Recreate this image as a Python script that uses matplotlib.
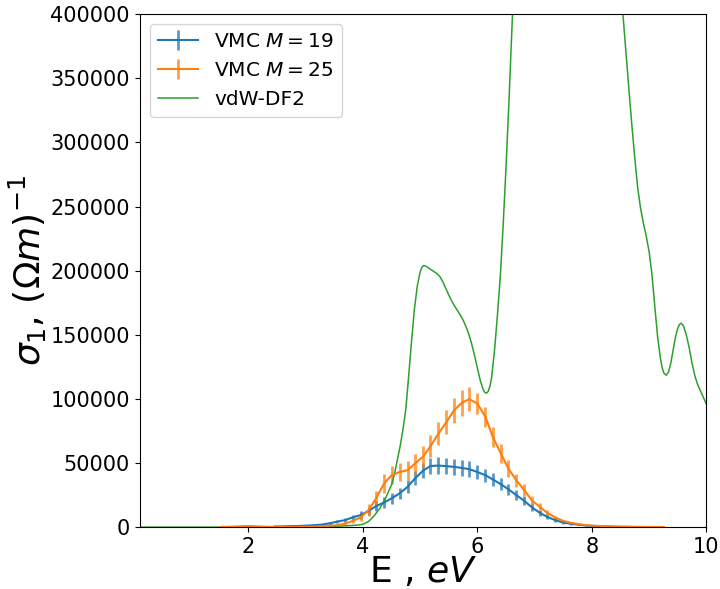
import numpy as np
import matplotlib
matplotlib.use('Agg')
import matplotlib.pyplot as plt

# energy grid of the VMC points (eV)
E_vmc = [1.51, 1.65, 1.78, 1.92, 2.06, 2.19, 2.33, 2.46, 2.60, 2.74,
         2.87, 3.01, 3.14, 3.28, 3.42, 3.55, 3.69, 3.82, 3.96, 4.10,
         4.23, 4.37, 4.50, 4.64, 4.78, 4.91, 5.05, 5.18, 5.32, 5.46,
         5.59, 5.73, 5.86, 6.00, 6.14, 6.27, 6.41, 6.54, 6.68, 6.82,
         6.95, 7.09, 7.22, 7.36, 7.50, 7.63, 7.77, 7.90, 8.04, 8.18,
         8.31, 8.45, 8.58, 8.72, 8.86, 8.99, 9.13, 9.26]

# VMC M=25 (units of 1000 (Ohm m)^-1)
sig_m25 = [0.2, 0.3, 0.5, 0.8, 0.8, 0.5, 0.3, 0.2, 0.2, 0.2,
           0.2, 0.3, 0.4, 0.6, 1.0, 1.6, 2.8, 4.8, 7.6, 13.3,
           22.4, 34.0, 40.5, 43.0, 44.4, 49.6, 55.0, 63.0, 73.0, 82.0,
           91.0, 97.0, 99.8, 96.4, 86.0, 70.4, 57.5, 45.8, 36.6, 28.9,
           21.0, 15.8, 11.2, 7.6, 4.9, 3.4, 2.3, 1.6, 1.1, 0.8,
           0.6, 0.45, 0.35, 0.25, 0.2, 0.15, 0.1, 0.08]
err_m25 = [0.3, 0.3, 0.4, 0.6, 0.6, 0.4, 0.3, 0.3, 0.3, 0.3,
           0.3, 0.3, 0.4, 0.5, 0.6, 0.8, 1.2, 1.8, 2.8, 4.5,
           6.0, 7.5, 7.0, 7.0, 7.5, 7.8, 8.0, 8.5, 9.0, 9.5,
           9.5, 10.0, 9.5, 8.5, 8.0, 8.0, 7.5, 6.5, 5.2, 4.5,
           3.5, 2.8, 1.8, 1.2, 0.8, 0.6, 0.4, 0.3, 0.2, 0.2,
           0.1, 0.1, 0.1, 0.1, 0.1, 0.1, 0.1, 0.1]

# VMC M=19 starts at E_vmc[7]
sig_m19 = [0.5, 0.6, 0.8, 0.9, 1.2, 1.5, 2.0, 3.0, 4.3, 5.5,
           7.6, 9.4, 12.7, 16.4, 19.2, 22.4, 26.3, 31.4, 38.0, 44.0,
           47.7, 48.0, 47.6, 47.0, 46.2, 45.2, 43.0, 40.5, 37.2, 33.5,
           29.6, 25.0, 20.5, 15.5, 11.2, 8.0, 5.5, 3.6, 2.7, 1.9,
           1.3, 0.9, 0.6, 0.4, 0.3, 0.2, 0.15, 0.1, 0.08, 0.05, 0.04]
err_m19 = [0.5, 0.5, 0.6, 0.6, 0.7, 0.7, 0.8, 1.0, 1.3, 1.6,
           2.0, 3.0, 3.3, 3.8, 4.0, 4.2, 4.5, 5.0, 5.5, 6.0,
           6.3, 6.5, 6.5, 6.5, 6.3, 6.0, 5.5, 5.2, 5.0, 4.7,
           4.3, 4.0, 3.5, 3.0, 2.5, 2.0, 1.5, 1.1, 0.8, 0.6,
           0.4, 0.3, 0.2, 0.2, 0.1, 0.1, 0.1, 0.1, 0.1, 0.1, 0.1]

# vdW-DF2 reference curve
E_df2 = [0.1, 1.0, 2.0, 2.5, 3.0, 3.4, 3.7, 3.9, 4.0, 4.1,
         4.2, 4.3, 4.4, 4.5, 4.55, 4.6, 4.65, 4.7, 4.75, 4.8,
         4.85, 4.9, 4.95, 5.0, 5.03, 5.06, 5.1, 5.15, 5.2, 5.25,
         5.3, 5.35, 5.4, 5.45, 5.5, 5.55, 5.6, 5.65, 5.7, 5.75,
         5.8, 5.85, 5.9, 5.95, 6.0, 6.05, 6.1, 6.13, 6.16, 6.19,
         6.22, 6.25, 6.3, 6.35, 6.4, 6.45, 6.5, 6.55, 6.6, 6.65,
         6.7, 6.8, 7.0, 7.3, 7.6, 8.0, 8.3, 8.5, 8.55, 8.6,
         8.65, 8.7, 8.75, 8.8, 8.85, 8.9, 8.95, 9.0, 9.05, 9.1,
         9.15, 9.2, 9.23, 9.26, 9.3, 9.34, 9.38, 9.42, 9.46, 9.5,
         9.53, 9.56, 9.6, 9.65, 9.7, 9.75, 9.8, 9.85, 9.9, 9.95,
         10.0]
sig_df2 = [0.0, 0.0, 0.0, 0.1, 0.2, 0.5, 1.0, 1.6, 2.2, 4.5,
           9.0, 15.0, 23.0, 33.0, 41.0, 52.0, 63.0, 76.0, 92.0, 118.0,
           145.0, 170.0, 188.0, 199.0, 202.5, 204.0, 203.5, 202.0, 200.5, 199.0,
           197.5, 195.0, 191.0, 186.0, 181.0, 176.5, 172.5, 169.0, 165.5, 161.5,
           156.5, 150.5, 143.0, 134.0, 124.0, 114.5, 107.5, 105.0, 104.5, 106.0,
           110.0, 117.0, 138.0, 165.0, 195.0, 235.0, 280.0, 330.0, 385.0, 440.0,
           500.0, 580.0, 680.0, 720.0, 690.0, 620.0, 520.0, 425.0, 396.0, 368.0,
           340.0, 313.0, 288.0, 265.0, 249.0, 237.0, 227.0, 215.0, 197.0, 172.0,
           148.0, 131.0, 124.0, 120.0, 118.5, 121.0, 128.0, 138.0, 148.0, 155.0,
           158.0, 159.0, 157.0, 150.0, 140.0, 128.0, 118.0, 111.0, 106.0, 101.0,
           96.0]

fig = plt.figure(figsize=(7.2, 5.89), dpi=100)
ax = fig.add_axes([0.194, 0.105, 0.787, 0.871])

k = 1000.0
e19 = ax.errorbar(E_vmc[7:], np.array(sig_m19) * k, yerr=np.array(err_m19) * k,
                  color='C0', lw=1.5, elinewidth=2, label='VMC $M=19$')
e25 = ax.errorbar(E_vmc, np.array(sig_m25) * k, yerr=np.array(err_m25) * k,
                  color='C1', lw=1.5, elinewidth=2, label='VMC $M=25$')
for eb in (e19, e25):
    for col in eb[2]:
        col.set_alpha(0.75)
df2, = ax.plot(E_df2, np.array(sig_df2) * k, color='C2', lw=1.1,
               label='vdW-DF2')

ax.set_xlim(0.1, 10)
ax.set_ylim(0, 400000)
ax.set_xticks([2, 4, 6, 8, 10])
ax.set_yticks(np.arange(0, 400001, 50000))
ax.tick_params(labelsize=15)
ax.set_xlabel(r'E , $eV$', fontsize=26, labelpad=-1)
ax.set_ylabel(r'$\sigma_1$, $(\Omega m)^{-1}$', fontsize=26, labelpad=1)
ax.legend(handles=[e19, e25, df2], loc='upper left', fontsize=14.5)

fig.savefig('out.png', dpi=100)
